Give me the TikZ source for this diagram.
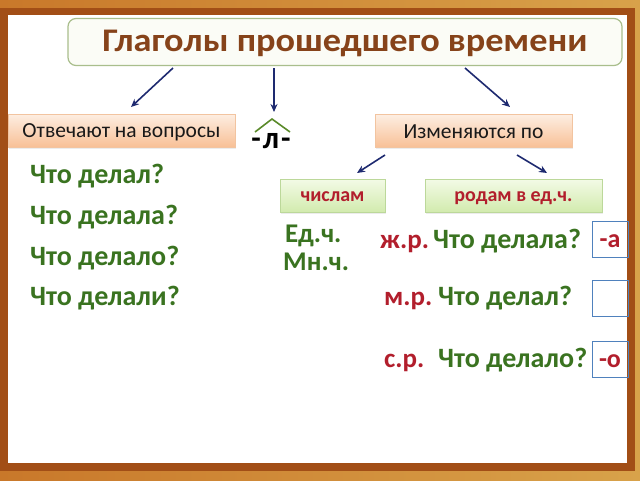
\documentclass[tikz,border=0pt]{standalone}
\usepackage{fontspec}
\setmainfont{Carlito}
\usetikzlibrary{arrows.meta,shadows}
\definecolor{frameout}{HTML}{C9782A}
\definecolor{frameout2}{HTML}{D8A24A}
\definecolor{framein}{HTML}{A24E16}
\definecolor{titletext}{HTML}{86431A}
\definecolor{titleline}{HTML}{A9BE8C}
\definecolor{titlefill}{HTML}{FBFCF6}
\definecolor{navy}{HTML}{1E2A70}
\definecolor{peachtop}{HTML}{FDEEE2}
\definecolor{peachbot}{HTML}{F8C096}
\definecolor{peachline}{HTML}{F2C4A0}
\definecolor{greentop}{HTML}{F3FAE6}
\definecolor{greenbot}{HTML}{D2EBAE}
\definecolor{greenline}{HTML}{BCD89A}
\definecolor{verbgreen}{HTML}{3A7320}
\definecolor{genred}{HTML}{B21E2C}
\definecolor{endline}{HTML}{4F81BD}
\definecolor{roof}{HTML}{5A8A2A}
\tikzset{
  arr/.style={-{Stealth[length=8pt,width=7pt]}, line width=1.6pt, draw=navy},
  peachbox/.style={draw=peachline, top color=peachtop, bottom color=peachbot,
    minimum height=33pt, inner sep=0pt, text height=16pt, text depth=2pt,
    text=black!90, font=\fontsize{21.5}{21.5}\selectfont,
    drop shadow={opacity=0.15, shadow xshift=1pt, shadow yshift=-1.5pt}},
  greenbox/.style={draw=greenline, top color=greentop, bottom color=greenbot,
    minimum height=33pt, inner sep=0pt, text height=12pt, text depth=0pt,
    text=genred, font=\fontsize{20}{20}\selectfont\bfseries,
    drop shadow={opacity=0.15, shadow xshift=1pt, shadow yshift=-1.5pt}},
  verb/.style={anchor=base west, inner sep=0pt, text=verbgreen, font=\fontsize{28}{28}\selectfont\bfseries},
  gender/.style={anchor=base west, inner sep=0pt, text=genred, font=\fontsize{27}{27}\selectfont\bfseries},
  endbox/.style={draw=endline, line width=0.9pt, minimum width=36pt, minimum height=36pt,
    inner sep=0pt, text height=16pt, text depth=0pt, text=genred, font=\fontsize{26}{26}\selectfont\bfseries}
}
\begin{document}
\begin{tikzpicture}[x=1pt, y=-1pt]
  \useasboundingbox (0,0) rectangle (640,480);
  \fill[left color=frameout, right color=frameout2] (0,0) rectangle (640,480);
  \fill[framein] (0,8) rectangle (635,471);
  \fill[white] (8,15) rectangle (627,463);

  \node[draw=titleline, line width=1.2pt, fill=titlefill, rounded corners=8pt,
        minimum width=554pt, minimum height=47pt] (title) at (345,42) {};
  \node[text=titletext, font=\fontsize{33}{33}\selectfont\bfseries, xscale=1.1] (titletxt) at (345,43) {Глаголы прошедшего времени};

  \node[peachbox, minimum width=227pt] (answer) at (121.5,130.5) {Отвечают на вопросы};
  \node[peachbox, minimum width=197pt] (change) at (473.5,131) {Изменяются по};
  \node[greenbox, minimum width=105pt] (number) at (332.5,195.5) {числам};
  \node[greenbox, minimum width=177pt] (gender) at (513.5,195.5) {родам в ед.ч.};

  \coordinate (t1) at (173,68);
  \coordinate (t2) at (274,68);
  \coordinate (t3) at (465,68);
  \coordinate (a1) at (131,107);
  \coordinate (a2) at (274,112);
  \coordinate (a3) at (510,107);
  \draw[arr] (t1) -- (a1);
  \draw[arr] (t2) -- (a2);
  \draw[arr] (t3) -- (a3);

  \coordinate (c1) at (385,155);
  \coordinate (c2) at (517,155);
  \coordinate (n1) at (357,173);
  \coordinate (g1) at (547,173);
  \draw[arr] (c1) -- (n1);
  \draw[arr] (c2) -- (g1);

  % suffix -l- under a roof
  \node[font=\fontsize{31}{31}\selectfont\bfseries, inner sep=0pt] (suffix) at (271,141) {-\hspace{2pt}л\hspace{2pt}-};
  \draw[roof, line width=1.6pt] (255,132) -- (272,119) -- (290,132);

  \node[verb] (q1) at (30,183) {Что делал?};
  \node[verb] (q2) at (30,224) {Что делала?};
  \node[verb] (q3) at (30,265) {Что делало?};
  \node[verb] (q4) at (30,305) {Что делали?};

  \node[verb, font=\fontsize{27}{27}\selectfont\bfseries] (sing) at (285,242) {Ед.ч.};
  \node[verb, font=\fontsize{27}{27}\selectfont\bfseries] (plur) at (283,270) {Мн.ч.};

  \node[gender] (fem) at (380,248) {ж.р.};
  \node[verb] (qf) at (433,248) {Что делала?};
  \node[gender] (masc) at (384,305) {м.р.};
  \node[verb] (qm) at (438,305) {Что делал?};
  \node[gender] (neut) at (384,367) {с.р.};
  \node[verb] (qn) at (438,367) {Что делало?};

  \node[endbox] (ef) at (610,239) {-а};
  \node[endbox] (em) at (610,298) {};
  \node[endbox] (en) at (610,359) {-о};
\end{tikzpicture}
\end{document}
